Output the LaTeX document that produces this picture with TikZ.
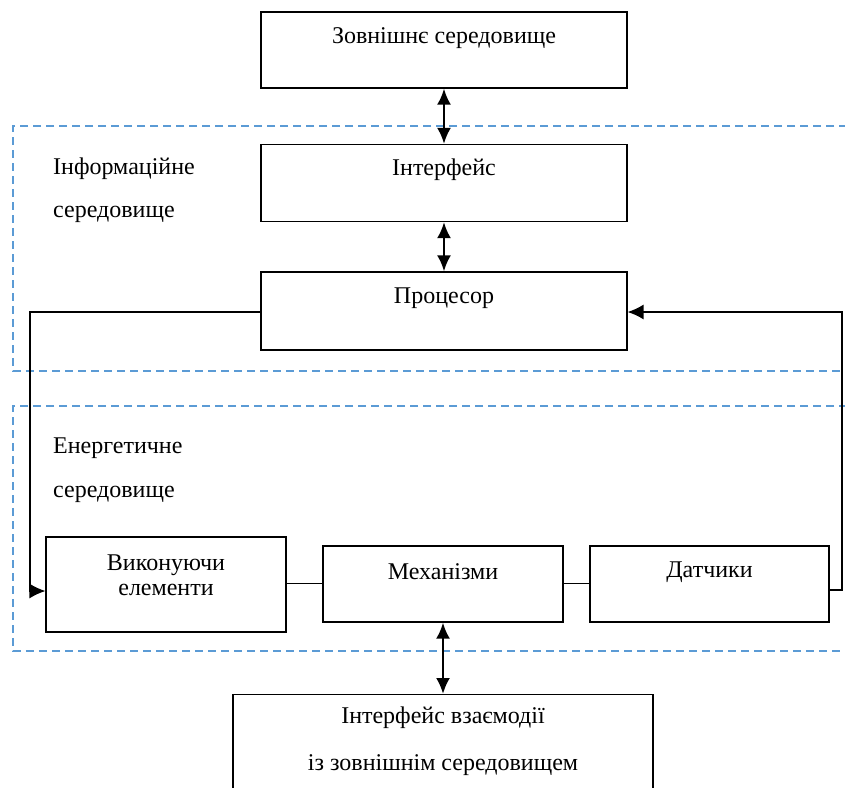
\documentclass[tikz,border=0pt]{standalone}
\usepackage{fontspec}
\setmainfont{Liberation Serif}
\usepackage{tikz}
\usetikzlibrary{arrows.meta, positioning, calc}

\definecolor{zoneblue}{RGB}{91,155,213}

\begin{document}
\begin{tikzpicture}[
    x=1pt, y=-1pt,
    box/.style={rectangle, draw, line width=1.2pt, inner sep=0pt},
    txt/.style={inner sep=0pt, align=center, font=\fontsize{24}{47}\selectfont},
    zone/.style={draw=zoneblue, dashed, dash pattern=on 8pt off 5pt, line width=1.6pt},
    link/.style={line width=1pt},
    arrow/.style={line width=1.3pt, -{Latex[length=16pt, width=15pt]}},
    biarrow/.style={line width=2.5pt, {Latex[length=16pt, width=14pt]}-{Latex[length=16pt, width=14pt]}}
]
    \useasboundingbox (0,0) rectangle (845,787);

    % Zones
    \draw[zone] (860,126) -- (13,126) -- (13,371) -- (860,371);
    \draw[zone] (860,406) -- (13,406) -- (13,651) -- (860,651);
    \node[txt, anchor=west] (info1) at (53,169) {Інформаційне};
    \node[txt, anchor=west] (info2) at (53,214) {середовище};
    \node[txt, anchor=west] (energy1) at (53,448) {Енергетичне};
    \node[txt, anchor=west] (energy2) at (53,494) {середовище};

    % Boxes
    \node[box, minimum width=366, minimum height=76] (env) at (444,50) {};
    \node[txt] (env_t) at (444,38) {Зовнішнє середовище};
    \node[box, minimum width=366, minimum height=77] (iface) at (444,183) {};
    \node[txt] (iface_t) at (444,170) {Інтерфейс};
    \node[box, minimum width=366, minimum height=78] (cpu) at (444,311) {};
    \node[txt] (cpu_t) at (444,298) {Процесор};
    \node[box, minimum width=240, minimum height=95] (actuators) at (166,584.5) {};
    \node[txt] (actuators_t) at (166,575) {Виконуючи\\[-22pt]елементи};
    \node[box, minimum width=240, minimum height=76] (mech) at (443,584) {};
    \node[txt] (mech_t) at (443,572) {Механізми};
    \node[box, minimum width=239, minimum height=76] (sensors) at (709.5,584) {};
    \node[txt] (sensors_t) at (709.5,572) {Датчики};
    \node[box, minimum width=420, minimum height=120, anchor=north] (outer) at (443,694) {};
    \node[txt] (outer_t) at (443,741.5) {Інтерфейс взаємодії\\із зовнішнім середовищем};

    % Arrows
    \draw[biarrow] (env.south) -- (iface.north);
    \draw[biarrow] (iface.south) -- (cpu.north);
    \draw[biarrow] (mech.south) -- (outer.north);
    \draw[link] ([yshift=1pt]mech.west -| actuators.east) -- ([yshift=1pt]mech.west);
    \draw[link] ([yshift=1pt]mech.east) -- ([yshift=1pt]mech.east -| sensors.west);
    \draw[arrow] ([yshift=-1pt]cpu.west) -| (30,591) -- (30,591 -| actuators.west);
    \draw[arrow] (sensors.east |- 842,590) -| (842,312) -- (842,312 -| cpu.east);
\end{tikzpicture}
\end{document}
